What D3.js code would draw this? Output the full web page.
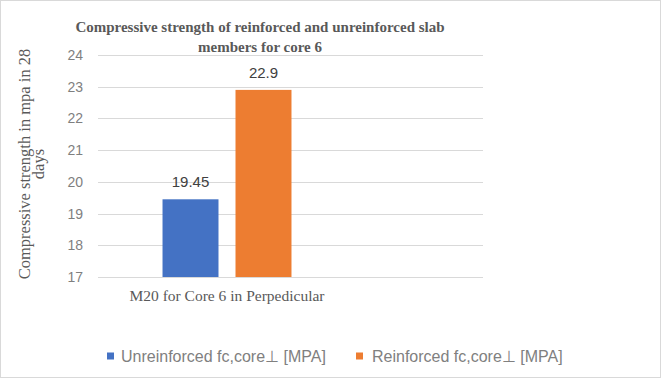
<!DOCTYPE html>
<html>
<head>
<meta charset="utf-8">
<script src="https://cdn.jsdelivr.net/npm/d3@7"></script>
<style>
  html, body { margin: 0; padding: 0; background: #fff; }
  svg { display: block; }
</style>
</head>
<body>
<svg id="chart" width="661" height="378"></svg>
<script>
// Chart data
const categories = ["M20 for Core 6 in Perpedicular"];
const seriesNames = ["Unreinforced fc,core\u22A5 [MPA]", "Reinforced fc,core\u22A5 [MPA]"];
const unreinforced = [19.45];
const reinforced = [22.9];
const yTicks = [17, 18, 19, 20, 21, 22, 23, 24];
const titleLines = ["Compressive strength of reinforced and unreinforced slab", "members for core 6"];
const yLabelLines = ["Compressive strength in mpa in 28", "days"];

const colors = ["#4472C4", "#ED7D31"];
const series = [unreinforced, reinforced];

const svg = d3.select("#chart");
const W = 661, H = 378;

// outer frame
svg.append("rect").attr("x", 0.5).attr("y", 0.5).attr("width", W - 1).attr("height", H - 1)
  .attr("fill", "#fff").attr("stroke", "#d9d9d9");

const plot = { left: 98, right: 483, top: 55, bottom: 277 };

const y = d3.scaleLinear().domain([17, 24]).range([plot.bottom, plot.top]);
const x0 = d3.scaleBand().domain(categories).range([plot.left, 356]);
const x1 = d3.scaleBand().domain(seriesNames).range([0, x0.bandwidth()])
  .paddingInner(0.233).paddingOuter(0.884);

// gridlines
svg.append("g")
  .selectAll("line").data(yTicks).join("line")
  .attr("x1", plot.left).attr("x2", plot.right)
  .attr("y1", d => Math.round(y(d)) + 0.5).attr("y2", d => Math.round(y(d)) + 0.5)
  .attr("stroke", "#d9d9d9").attr("stroke-width", 1);

// y axis tick labels
const yAxis = d3.axisLeft(y).tickValues(yTicks).tickFormat(d3.format("d")).tickSize(0).tickPadding(0);
const gy = svg.append("g").attr("transform", `translate(${plot.left - 15},0)`).call(yAxis);
gy.select(".domain").remove();
gy.selectAll("text").attr("font-family", "'Liberation Sans', Arial, sans-serif")
  .attr("font-size", 14).attr("fill", "#7f7f7f");

// bars
const groups = svg.append("g").selectAll("g").data(categories).join("g")
  .attr("transform", d => `translate(${x0(d)},0)`);

const cells = (d, i) => seriesNames.map((s, k) => ({ s, v: series[k][i], k }));

groups.selectAll("rect")
  .data(cells)
  .join("rect")
  .attr("x", d => x1(d.s))
  .attr("width", x1.bandwidth())
  .attr("y", d => y(d.v))
  .attr("height", d => y(17) - y(d.v))
  .attr("fill", d => colors[d.k]);

// data labels
groups.selectAll("text.val")
  .data(cells)
  .join("text").attr("class", "val")
  .attr("x", d => x1(d.s) + x1.bandwidth() / 2)
  .attr("y", d => y(d.v) - 12)
  .attr("text-anchor", "middle")
  .attr("font-family", "'Liberation Sans', Arial, sans-serif")
  .attr("font-size", 15).attr("fill", "#404040")
  .text(d => d.v);

// category axis labels
const xAxis = d3.axisBottom(x0).tickSize(0).tickPadding(0);
const gx = svg.append("g").attr("transform", `translate(0,${plot.bottom + 24})`).call(xAxis);
gx.select(".domain").remove();
gx.selectAll("text").attr("dy", 0).attr("font-family", "'Liberation Serif', 'Times New Roman', serif")
  .attr("font-size", 15.5).attr("fill", "#595959");

// title
svg.append("text")
  .attr("x", 260).attr("y", 32)
  .attr("text-anchor", "middle")
  .attr("font-family", "'Liberation Serif', 'Times New Roman', serif")
  .attr("font-weight", "bold").attr("font-size", 15).attr("fill", "#595959")
  .selectAll("tspan").data(titleLines).join("tspan")
  .attr("x", 260).attr("dy", (d, i) => i === 0 ? 0 : 20)
  .text(d => d);

// y axis title
svg.append("text")
  .attr("transform", "translate(30,164) rotate(-90)")
  .attr("text-anchor", "middle")
  .attr("font-family", "'Liberation Serif', 'Times New Roman', serif")
  .attr("font-size", 16.5).attr("fill", "#595959")
  .selectAll("tspan").data(yLabelLines).join("tspan")
  .attr("x", 0).attr("dy", (d, i) => i === 0 ? 0 : 14)
  .text(d => d);

// legend
const legendX = [107, 356];
const legend = svg.append("g").selectAll("g").data(seriesNames).join("g")
  .attr("transform", (d, i) => `translate(${legendX[i]},356)`);
legend.append("rect").attr("x", 0).attr("y", -3.5).attr("width", 7).attr("height", 7)
  .attr("fill", (d, i) => colors[i]);
legend.append("text").attr("x", (d, i) => i === 0 ? 14 : 16).attr("y", 0).attr("dy", "0.35em")
  .attr("font-family", "'Liberation Sans', Arial, sans-serif")
  .attr("font-size", 16).attr("fill", "#808080")
  .text(d => d);
</script>
</body>
</html>
